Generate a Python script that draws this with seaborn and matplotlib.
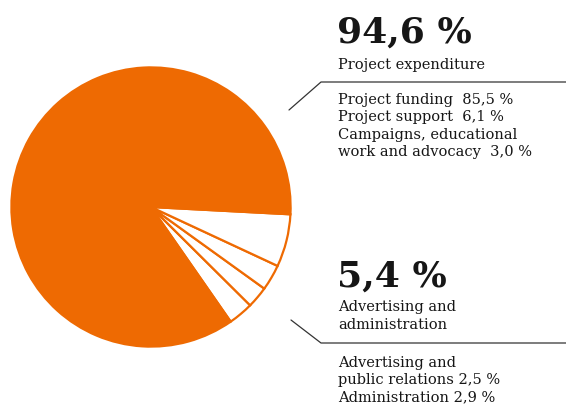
import matplotlib
matplotlib.use("Agg")
import matplotlib.pyplot as plt
import seaborn as sns

# shares of total expenditure (percent), counter-clockwise from the lower white wedge
labels = ["Administration", "Advertising and public relations",
          "Campaigns, educational work and advocacy", "Project support",
          "Project funding"]
shares = [2.9, 2.5, 3.0, 6.1, 85.5]

project_total = "94,6 %"
admin_total = "5,4 %"
project_lines = ["Project funding  85,5 %", "Project support  6,1 %",
                 "Campaigns, educational", "work and advocacy  3,0 %"]
admin_lines = ["Advertising and", "public relations 2,5 %", "Administration 2,9 %"]

ORANGE = "#EE6A02"
TEXT = "#161616"

sns.set_theme(style="white")
plt.rcParams["font.family"] = ["DejaVu Serif"]

W, H = 566, 407
fig = plt.figure(figsize=(W / 100, H / 100), dpi=100)

# pie axes placed in pixel terms: centre (151, 207), radius 141
cx, cy, r = 151, 207, 141
ax = fig.add_axes([(cx - r) / W, (H - cy - r) / H, 2 * r / W, 2 * r / H])
fills = ["white", "white", "white", "white", ORANGE]
start = -3 - 360 * sum(shares[:4]) / 100
ax.pie(shares, colors=fills, startangle=start, counterclock=True, radius=1,
       wedgeprops=dict(edgecolor=ORANGE, linewidth=1.6))
ax.set_xlim(-1.01, 1.01)
ax.set_ylim(-1.01, 1.01)
ax.set_axis_off()


def px(x, y):
    return x / W, 1 - y / H


# upper block
fig.text(*px(337, 43), project_total, fontsize=26, fontweight="bold", color=TEXT, va="baseline")
fig.text(*px(338, 69), "Project expenditure", fontsize=10.5, color=TEXT, va="baseline")
for i, line in enumerate(project_lines):
    fig.text(*px(338, 104 + i * 17.3), line, fontsize=10.5, color=TEXT, va="baseline")

# lower block
fig.text(*px(337, 287), admin_total, fontsize=26, fontweight="bold", color=TEXT, va="baseline")
fig.text(*px(338, 311), "Advertising and", fontsize=10.5, color=TEXT, va="baseline")
fig.text(*px(338, 329), "administration", fontsize=10.5, color=TEXT, va="baseline")
for i, line in enumerate(admin_lines):
    fig.text(*px(338, 367 + i * 17.3), line, fontsize=10.5, color=TEXT, va="baseline")

# leader lines
for pts in ([(289, 110), (321, 82), (566, 82)], [(291, 320), (321, 343), (566, 343)]):
    xs = [p[0] / W for p in pts]
    ys = [1 - p[1] / H for p in pts]
    fig.add_artist(plt.Line2D(xs, ys, color="#333333", linewidth=0.9))

fig.savefig("out.png", dpi=100)
